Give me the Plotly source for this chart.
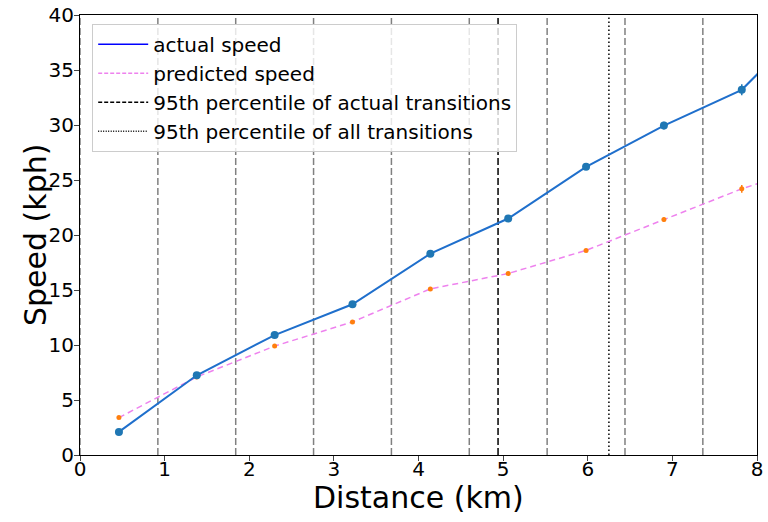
import plotly.graph_objects as go

distance_km = [0.46, 1.38, 2.30, 3.22, 4.14, 5.06, 5.98, 6.90, 7.82, 8.74]
actual_speed = [2.1, 7.25, 10.9, 13.7, 18.3, 21.5, 26.2, 29.95, 33.2, 40.3]
actual_err = [0.15, 0.2, 0.2, 0.2, 0.2, 0.2, 0.2, 0.35, 0.5, 0.6]
predicted_speed = [3.4, 7.1, 9.9, 12.1, 15.1, 16.5, 18.6, 21.4, 24.2, 26.5]
predicted_err = [0.1, 0.1, 0.1, 0.1, 0.1, 0.1, 0.1, 0.2, 0.35, 0.4]

transition_lines = [0.0, 0.92, 1.84, 2.76, 3.68, 4.60, 5.52, 6.44, 7.36]
p95_actual = 4.94
p95_all = 6.25

x_ticks = [0, 1, 2, 3, 4, 5, 6, 7, 8]
y_ticks = [0, 5, 10, 15, 20, 25, 30, 35, 40]

fig = go.Figure()

shapes = []
for xv in transition_lines:
    shapes.append(dict(type="line", xref="x", yref="paper", x0=xv, x1=xv, y0=0, y1=1,
                       line=dict(color="gray", width=1.5, dash="7px,3px"), layer="below"))
shapes.append(dict(type="line", xref="x", yref="paper", x0=p95_actual, x1=p95_actual, y0=0, y1=1,
                   line=dict(color="black", width=1.5, dash="7px,3px"), layer="below"))
shapes.append(dict(type="line", xref="x", yref="paper", x0=p95_all, x1=p95_all, y0=0, y1=1,
                   line=dict(color="black", width=1.5, dash="1.5px,2.5px"), layer="below"))

# data traces
fig.add_trace(go.Scatter(x=distance_km, y=predicted_speed, mode="lines",
                         line=dict(color="violet", width=1.5, dash="6px,4px"),
                         showlegend=False, hoverinfo="skip"))
fig.add_trace(go.Scatter(x=distance_km, y=predicted_speed, mode="markers",
                         marker=dict(color="#ff7f0e", size=5),
                         error_y=dict(type="data", array=predicted_err, color="#ff7f0e", width=0, thickness=1.5),
                         showlegend=False))
fig.add_trace(go.Scatter(x=distance_km, y=actual_speed, mode="lines+markers",
                         line=dict(color="#1f6fcc", width=2),
                         marker=dict(color="#1f77b4", size=8),
                         error_y=dict(type="data", array=actual_err, color="#1f77b4", width=0, thickness=1.5),
                         showlegend=False))

# legend entries
fig.add_trace(go.Scatter(x=[None], y=[None], mode="lines", name="actual speed",
                         line=dict(color="blue", width=1.5)))
fig.add_trace(go.Scatter(x=[None], y=[None], mode="lines", name="predicted speed",
                         line=dict(color="violet", width=1.5, dash="4px,2px")))
fig.add_trace(go.Scatter(x=[None], y=[None], mode="lines", name="95th percentile of actual transitions",
                         line=dict(color="black", width=1.5, dash="4px,2px")))
fig.add_trace(go.Scatter(x=[None], y=[None], mode="lines", name="95th percentile of all transitions",
                         line=dict(color="black", width=1.5, dash="1px,1.5px")))

fig.update_layout(
    width=768, height=522,
    margin=dict(l=80, r=11, t=15, b=67),
    paper_bgcolor="white", plot_bgcolor="white",
    font=dict(family="DejaVu Sans", size=20, color="black"),
    shapes=shapes,
    showlegend=True,
    legend=dict(x=0.018, y=0.98, xanchor="left", yanchor="top",
                bgcolor="rgba(255,255,255,0.8)", bordercolor="#cccccc", borderwidth=1,
                font=dict(size=20), tracegroupgap=0, itemwidth=50),
    xaxis=dict(range=[0, 8], tickvals=x_ticks, ticks="outside", ticklen=5, tickwidth=1,
               showgrid=False, zeroline=False, showline=True, linecolor="black", linewidth=1,
               mirror=True, automargin=False, ticklabelstandoff=-9, ticklabeloverflow="allow"),
    yaxis=dict(range=[0, 40], tickvals=y_ticks, ticks="outside", ticklen=5, tickwidth=1,
               showgrid=False, zeroline=False, showline=True, linecolor="black", linewidth=1,
               mirror=True, automargin=False, ticklabelstandoff=-4, ticklabeloverflow="allow"),
    annotations=[
        dict(text="Distance (km)", xref="paper", yref="paper", x=0.5, y=0,
             xanchor="center", yanchor="middle", yshift=-42, showarrow=False,
             font=dict(size=30)),
        dict(text="Speed (kph)", xref="paper", yref="paper", x=0, y=0.5,
             xanchor="center", yanchor="middle", xshift=-45, textangle=-90,
             showarrow=False, font=dict(size=30)),
    ],
)

fig.write_html("out.html", config={"displayModeBar": False},
               post_script="document.body.style.margin='0';")
